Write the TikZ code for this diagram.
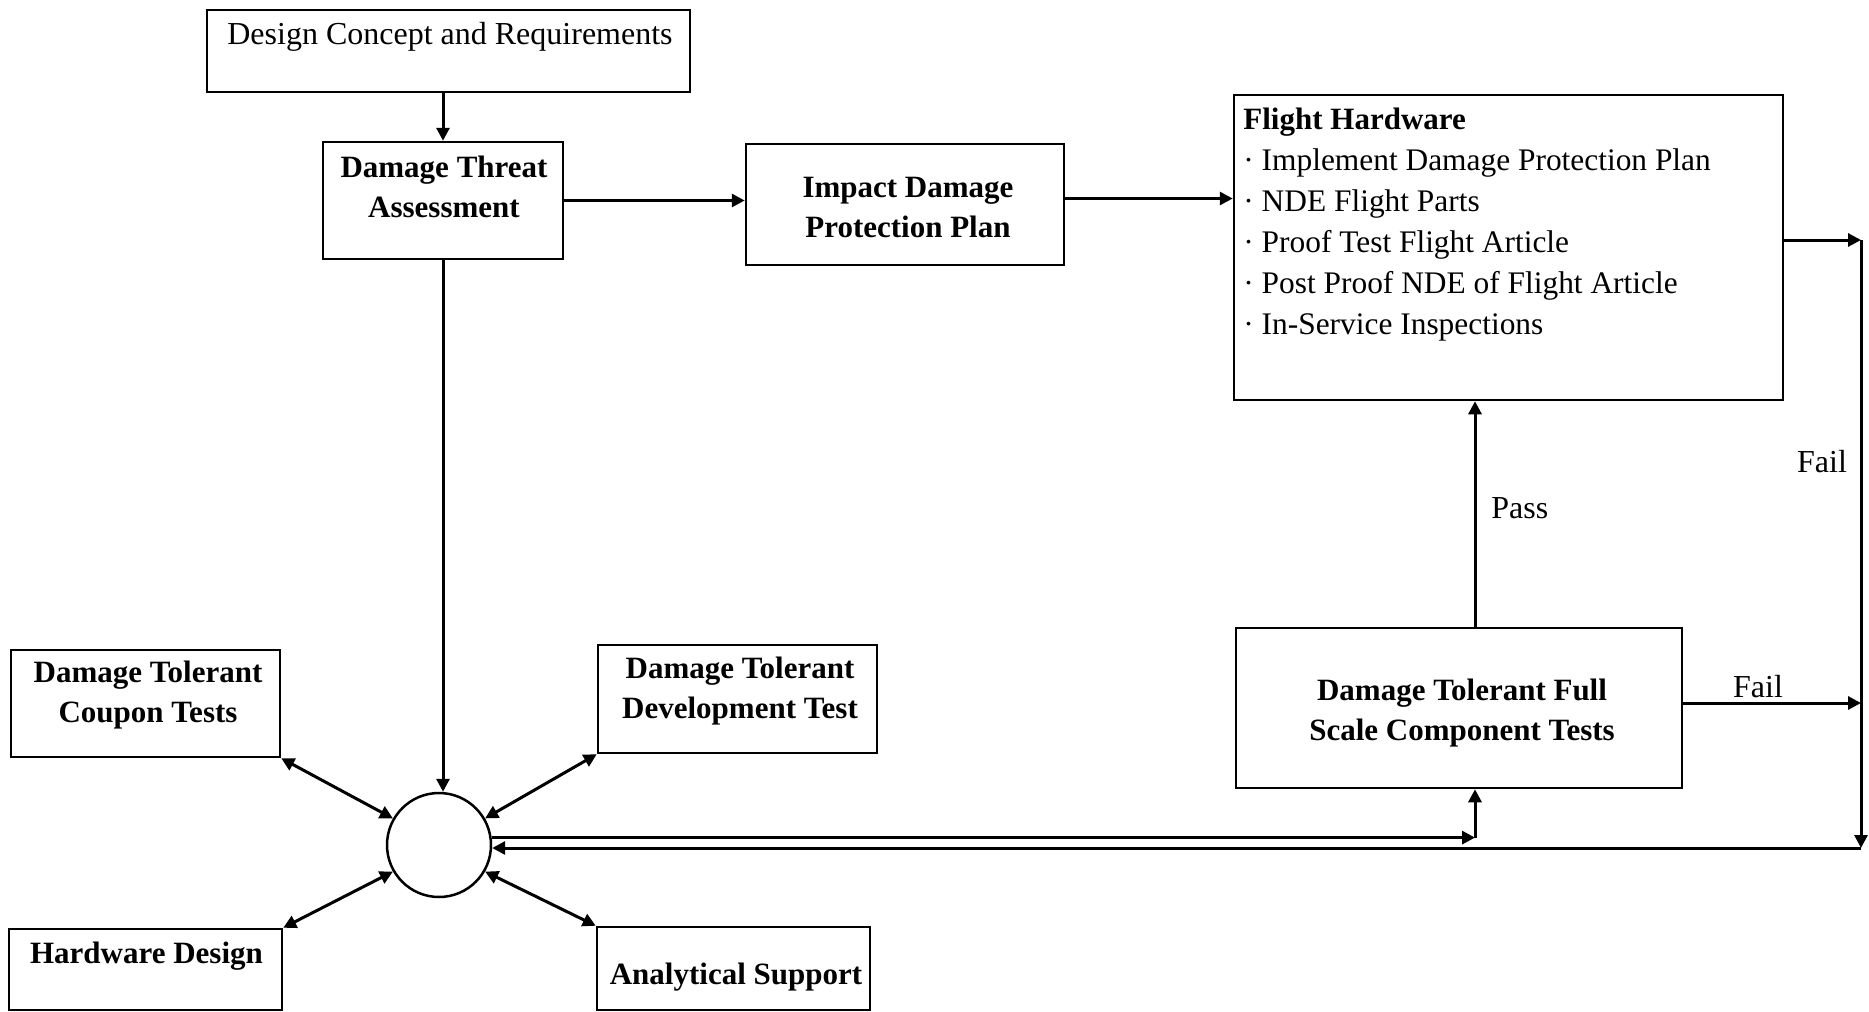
\documentclass[tikz,border=0pt]{standalone}
\usepackage{fontspec}
\setmainfont{Liberation Serif}
\usetikzlibrary{arrows.meta,calc}
\begin{document}
\begin{tikzpicture}[x=0.5pt,y=-0.5pt,
  box/.style={draw, line width=1.25pt, inner sep=0pt},
  tb/.style={font=\bfseries\fontsize{15.5}{20}\selectfont, align=center, inner sep=0pt},
  tr/.style={font=\fontsize{16}{20.5}\selectfont, inner sep=0pt},
  trf/.style={font=\fontsize{15.7}{20.5}\selectfont, inner sep=0pt},
  arr/.style={line width=1.5pt, -{Triangle[length=6.5pt,width=6.5pt]}},
  darr/.style={line width=1.5pt, {Triangle[length=6.5pt,width=6.5pt]}-{Triangle[length=6.5pt,width=6.5pt]}}]
\useasboundingbox (0,0) rectangle (1869,1012);
% boxes
\node[box, minimum width=241.5pt, minimum height=41pt] (dc) at (448.5,51) {};
\node[box, minimum width=120pt, minimum height=58.5pt] (dta) at (443,200.5) {};
\node[box, minimum width=159pt, minimum height=60.5pt] (idp) at (905,204.5) {};
\node[box, minimum width=274.5pt, minimum height=152.5pt] (fh) at (1508.5,247.5) {};
\node[box, minimum width=223pt, minimum height=80pt] (comp) at (1459,708) {};
\node[box, minimum width=134.5pt, minimum height=53.5pt] (coup) at (145.5,703.5) {};
\node[box, minimum width=139.5pt, minimum height=54pt] (dev) at (737.5,699) {};
\node[box, minimum width=136.5pt, minimum height=40.5pt] (hw) at (145.5,969.5) {};
\node[box, minimum width=136.5pt, minimum height=41.5pt] (an) at (733.5,968.5) {};
\node[draw, circle, line width=1.25pt, minimum size=52pt, inner sep=0pt] (circ) at (439,845) {};
% texts
\node[tr] (dct) at (450,37) {Design Concept and Requirements};
\node[tb] (dtat) at (444,187) {Damage Threat\\Assessment};
\node[tb] (idpt) at (908,207) {Impact Damage\\Protection Plan};
\node[trf, anchor=north west, align=left] (fht) at (1243,108) {{\bfseries\fontsize{15.5}{20.5}\selectfont Flight Hardware}\\
· Implement Damage Protection Plan\\
· NDE Flight Parts\\
· Proof Test Flight Article\\
· Post Proof NDE of Flight Article\\
· In-Service Inspections};
\node[tb] (compt) at (1462,713) {Damage Tolerant Full\\Scale Component Tests};
\node[tb] (coupt) at (148,695) {Damage Tolerant\\Coupon Tests};
\node[tb] (devt) at (740,691) {Damage Tolerant\\Development Test};
\node[tb] (hwt) at (146.5,956) {Hardware Design};
\node[tb] (ant) at (736,977) {Analytical Support};
% coordinates
\coordinate (rt) at (1861,240);
\coordinate (rm) at (1861,703);
\coordinate (rb) at (1861,848);
\coordinate (cj) at (1475,838);
% connectors
\draw[arr] (dta.north |- dc.south) -- (dta.north);
\draw[arr] (dta.east) -- (dta.east -| idp.west);
\draw[arr] ($(idp.east)+(0,-6)$) -- ($(idp.east -| fh.west)+(0,-6)$);
\draw[arr] (dta.south) -- (dta.south |- circ.north);
\draw[arr] (fh.east |- rt) -- (rt);
\draw[arr] (comp.east |- rm) -- (rm);
\draw[arr] (rt) -- (rb);
\draw[arr] (rb) -- (rb -| circ.-3);
\draw[arr] (circ.8) -- (circ.8 -| cj);
\draw[arr] (cj) -- (cj |- comp.south);
\draw[arr] (cj |- comp.north) -- (cj |- fh.south);
\node[tr, anchor=west] (pass) at (1491,508) {Pass};
\node[tr] (f1) at (1822,462) {Fail};
\node[tr] (f2) at (1758,687) {Fail};
\draw[darr] (coup.south east) -- (circ.150);
\draw[darr] (dev.south west) -- (circ.30);
\draw[darr] (hw.north east) -- (circ.210);
\draw[darr] (an.north west) -- (circ.330);
\end{tikzpicture}
\end{document}
